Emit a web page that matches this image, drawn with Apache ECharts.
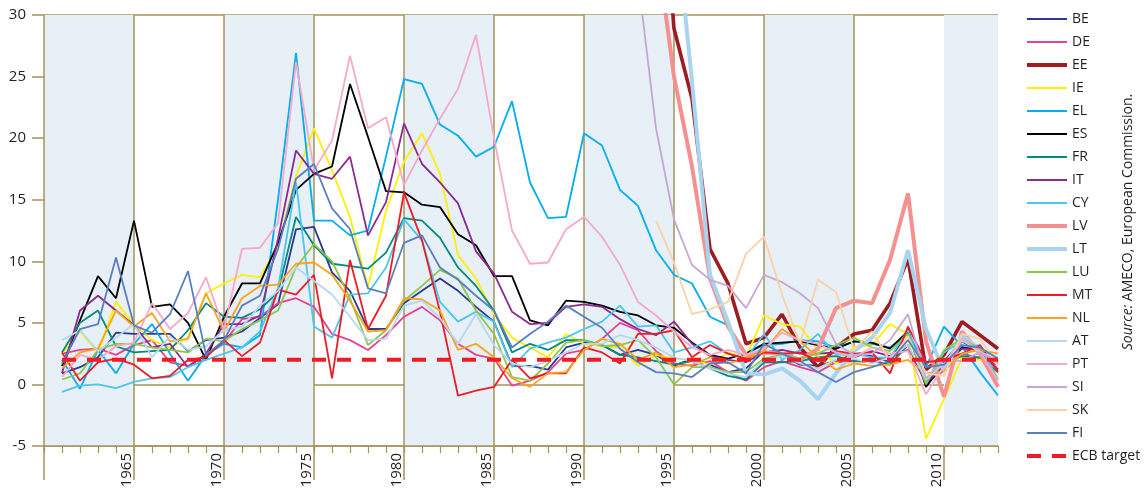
<!DOCTYPE html>
<html>
<head>
<meta charset="utf-8">
<script src="https://cdn.jsdelivr.net/npm/echarts@6/dist/echarts.min.js"></script>
<style>
html,body{margin:0;padding:0;background:#fff;}
#chart{width:1144px;height:495px;}
</style>
</head>
<body>
<div id="chart"></div>
<script>
// ---- data (annual inflation, %) ----
const years = [1961,1962,1963,1964,1965,1966,1967,1968,1969,1970,
  1971,1972,1973,1974,1975,1976,1977,1978,1979,1980,
  1981,1982,1983,1984,1985,1986,1987,1988,1989,1990,
  1991,1992,1993,1994,1995,1996,1997,1998,1999,2000,
  2001,2002,2003,2004,2005,2006,2007,2008,2009,2010,
  2011,2012,2013];

const BE = [0.9,1.4,2.2,4.2,4.1,4.1,4.1,2.7,3.6,3.8, 4.3,5.4,6.5,12.6,12.8,9.1,7.6,4.5,4.5,6.6, 7.6,8.6,7.6,6.3,5.1,1.5,1.5,1.2,3.0,3.4, 3.2,2.4,2.8,2.4,1.5,2.1,1.6,1.0,1.3,2.7, 2.4,1.6,1.5,1.9,2.5,2.3,1.8,4.5,0.0,1.9, 3.5,2.6,1.2];
const DE = [2.5,2.8,2.9,2.4,3.2,3.6,1.8,1.5,2.4,3.4, 5.3,5.5,6.6,7.0,6.3,4.1,3.6,2.8,4.0,5.5, 6.3,5.2,3.3,2.4,2.1,-0.1,0.3,1.0,2.5,2.8, 3.7,5.0,4.4,2.7,1.7,1.5,1.9,1.0,0.3,1.4, 1.9,1.4,1.0,1.8,1.9,1.8,2.3,2.8,0.2,1.1, 2.5,2.1,1.6];
const EE = [null,null,null,null,null,null,null,null,null,null, null,null,null,null,null,null,null,null,null,null, null,null,null,null,null,null,null,null,null,null, null,null,90,48,28.9,23.2,11.0,8.2,3.3,3.8, 5.7,3.0,1.4,3.0,4.1,4.4,6.6,10.2,1.2,2.4, 5.1,4.0,2.9];
const IE = [2.5,4.3,2.6,6.7,4.9,3.6,3.0,3.8,7.4,8.2, 8.9,8.7,11.2,16.9,20.8,17.4,13.6,7.9,14.1,18.1, 20.4,17.1,10.5,8.6,5.7,3.8,3.0,2.2,4.1,3.3, 3.1,3.0,1.5,2.4,2.1,2.0,1.6,2.6,2.2,5.6, 4.9,4.7,2.8,1.7,3.0,3.2,4.9,4.1,-4.4,-1.2, 2.2,2.0,0.9];
const EL = [2.0,-0.35,2.8,0.9,3.3,4.9,2.5,0.3,2.4,3.3, 3.0,4.0,15.0,26.9,13.3,13.3,12.1,12.5,18.5,24.8, 24.4,21.1,20.2,18.5,19.3,23.0,16.4,13.5,13.6,20.4, 19.4,15.8,14.5,10.9,8.9,8.2,5.5,4.8,2.5,3.2, 3.3,3.6,3.5,3.0,3.5,3.3,3.0,4.2,1.4,4.7, 3.1,1.0,-0.9];
const ES = [1.5,5.2,8.8,7.0,13.3,6.3,6.5,5.0,2.0,5.5, 8.2,8.2,11.5,15.8,17.1,17.7,24.4,20.1,15.7,15.6, 14.6,14.4,12.2,11.3,8.8,8.8,5.2,4.8,6.8,6.7, 6.4,5.9,5.6,4.8,4.6,3.4,2.4,2.1,2.5,3.3, 3.4,3.5,3.2,2.9,3.5,3.4,2.9,4.3,-0.2,1.7, 3.0,2.8,1.9];
const FR = [2.6,5.0,6.0,3.1,2.6,2.7,2.8,4.4,6.6,5.5, 5.4,6.1,7.5,13.6,11.3,9.8,9.6,9.4,10.7,13.5, 13.3,11.9,9.5,8.0,6.0,2.6,3.3,2.8,3.6,3.6, 3.2,2.4,2.2,1.9,1.6,1.9,1.3,0.7,0.4,1.8, 1.8,1.9,2.2,2.3,1.9,1.9,1.6,3.2,0.1,1.7, 2.3,2.2,1.0];
const IT = [0.9,6.0,7.2,6.0,4.8,3.0,3.3,1.4,2.5,4.9, 4.9,5.6,11.8,19.0,17.1,16.7,18.5,12.1,14.8,21.2, 17.9,16.4,14.7,10.8,9.0,5.9,4.9,5.0,6.3,6.5, 6.3,5.3,4.5,4.0,5.1,3.3,2.3,2.0,1.8,2.6, 2.8,2.5,2.5,2.6,2.2,2.7,2.3,3.2,0.1,1.5, 2.9,2.8,1.2];
const CY = [-0.6,-0.1,0.0,-0.3,0.2,0.5,0.6,1.4,2.0,2.5, 3.0,4.3,7.8,16.4,4.7,3.8,7.3,7.4,9.5,13.4, 11.7,6.7,5.1,5.9,5.1,1.4,2.9,3.4,3.8,4.5, 5.1,6.4,4.7,4.8,2.6,3.0,3.5,2.5,2.1,4.1, 2.0,2.8,4.1,2.4,2.5,2.2,2.2,4.4,0.2,2.6, 3.5,3.1,0.4];
const LV = [null,null,null,null,null,null,null,null,null,null, null,null,null,null,null,null,null,null,null,null, null,null,null,null,null,null,null,null,null,null, null,200,109,36,25.0,17.7,8.6,4.7,2.4,2.6, 2.5,2.0,2.9,6.2,6.8,6.6,10.1,15.5,3.5,-1.0, 4.3,2.5,-0.2];
const LT = [null,null,null,null,null,null,null,null,null,null, null,null,null,null,null,null,null,null,null,null, null,null,null,null,null,null,null,null,null,null, null,220,140,72,39.0,24.6,8.9,5.1,0.9,0.8, 1.3,0.3,-1.2,0.9,2.7,3.8,5.8,10.9,4.5,1.1, 4.0,2.8,1.7];
const LU = [0.4,0.9,2.8,3.3,3.3,3.0,2.8,2.6,3.7,3.5, 4.5,5.2,6.0,9.5,11.4,10.0,7.0,3.2,4.4,6.8, 8.0,9.3,8.6,6.0,4.1,0.6,0.3,1.7,3.4,3.6, 3.1,3.2,3.6,2.2,0.0,1.4,1.4,1.0,1.0,2.1, 2.4,2.1,2.5,3.2,3.8,3.0,2.7,4.1,0.0,2.8, 3.7,2.9,1.7];
const MT = [2.6,0.3,1.8,2.1,1.6,0.5,0.7,2.0,2.2,3.6, 2.3,3.4,7.7,7.3,8.9,0.5,10.1,4.5,7.2,15.6, 11.7,5.9,-0.9,-0.5,-0.2,2.0,0.5,0.9,0.9,3.0, 2.6,1.7,4.1,4.1,4.4,2.2,3.2,2.5,2.1,2.6, 2.5,2.6,1.9,2.7,2.5,2.6,0.9,4.7,1.8,2.0, 2.5,3.2,1.0];
const NL = [1.3,2.6,2.9,6.0,4.7,5.8,3.5,3.7,7.4,4.3, 7.0,8.0,8.1,9.8,9.9,8.9,6.8,4.3,4.4,7.0, 6.9,6.0,2.8,3.3,2.2,0.5,-0.2,0.9,1.0,2.8, 3.7,3.3,2.0,2.6,1.4,1.6,2.2,1.7,2.1,2.7, 4.5,3.5,2.2,1.2,1.7,1.5,1.6,2.0,0.9,1.1, 2.5,2.8,2.5];
const AT = [3.6,4.4,2.7,3.8,4.9,2.2,3.9,2.8,3.1,4.4, 4.7,6.4,7.6,9.5,8.4,7.3,5.5,3.6,3.7,6.4, 6.8,5.4,3.3,5.7,3.2,1.7,1.4,1.9,2.6,3.3, 3.3,4.0,3.6,3.0,2.2,1.9,1.3,0.9,0.6,2.0, 2.3,1.7,1.3,2.0,2.1,1.7,2.2,3.2,0.4,1.7, 3.6,2.6,2.1];
const PT = [0.6,2.4,2.0,3.1,3.4,6.6,4.5,5.8,8.7,4.5, 11.0,11.1,13.1,26.2,17.4,19.8,26.7,20.8,21.7,16.2, 19.0,21.6,24.0,28.4,20.0,12.5,9.8,9.9,12.6,13.6, 12.0,9.7,6.7,5.6,4.3,3.0,2.4,2.8,2.4,2.9, 4.2,3.6,3.3,2.6,2.2,3.0,2.5,2.7,-0.8,1.5, 3.7,2.7,0.3];
const SI = [null,null,null,null,null,null,null,null,null,null, null,null,null,null,null,null,null,null,null,null, null,null,null,null,null,null,null,null,null,null, null,200,33,20.8,13.4,9.7,8.5,8.0,6.2,8.9, 8.3,7.4,6.2,3.3,2.4,2.5,3.6,5.7,0.5,2.0, 1.9,2.6,1.8];
const SK = [null,null,null,null,null,null,null,null,null,null, null,null,null,null,null,null,null,null,null,null, null,null,null,null,null,null,null,null,null,null, null,null,null,13.3,9.9,5.7,6.1,6.7,10.6,12.0, 7.3,3.3,8.5,7.5,2.8,4.3,1.9,3.9,0.9,0.7, 4.1,3.7,1.5];
const FI = [1.7,4.5,4.9,10.3,4.8,4.2,5.7,9.2,2.4,3.6, 6.4,7.2,11.0,16.7,17.9,14.3,12.6,7.8,7.4,11.5, 12.1,9.5,8.5,7.2,6.0,3.0,4.1,5.1,6.4,5.5, 4.6,2.9,1.8,1.0,0.9,0.6,1.7,1.8,0.9,3.3, 2.5,1.9,1.0,0.2,1.0,1.4,1.9,3.6,1.4,1.6, 3.2,3.0,2.1];
const ecbYears = [1961, 2013];
const ecbTarget = [2, 2];

const yTicks = [-5, 0, 5, 10, 15, 20, 25, 30];
const xLabelYears = [1965, 1970, 1975, 1980, 1985, 1990, 1995, 2000, 2005, 2010];
const sourceText = 'AMECO, European Commission.';

// ---- styling ----
const countries = [
  ['BE', BE, '#2b3990', 1.8],
  ['DE', DE, '#e9418f', 1.8],
  ['EE', EE, '#9e1b22', 3.6],
  ['IE', IE, '#fff000', 1.8],
  ['EL', EL, '#00aeef', 1.8],
  ['ES', ES, '#000000', 1.8],
  ['FR', FR, '#008a80', 1.8],
  ['IT', IT, '#8b2a8f', 1.8],
  ['CY', CY, '#4cc6ef', 1.8],
  ['LV', LV, '#f4918f', 4],
  ['LT', LT, '#a9d4f0', 4],
  ['LU', LU, '#8dc74a', 1.8],
  ['MT', MT, '#ee1c25', 1.8],
  ['NL', NL, '#f8a51c', 1.8],
  ['AT', AT, '#b5d8f0', 1.8],
  ['PT', PT, '#f6a9c9', 1.8],
  ['SI', SI, '#c6a7d3', 1.8],
  ['SK', SK, '#fdd1a7', 1.8],
  ['FI', FI, '#5a7fc1', 1.8]
];
const olive = '#a3935d';
const shade = '#e7eff7';
const clear = 'rgba(255,255,255,0)';
const FONT = 'Open Sans';

const series = countries.map(([name, vals, color, w]) => ({
  name, type: 'line', xAxisIndex: 0, yAxisIndex: 0,
  data: years.map((y, i) => [y, vals[i]]),
  showSymbol: false, symbol: 'none', connectNulls: false,
  lineStyle: { color, width: w }, itemStyle: { color },
  emphasis: { disabled: true }, silent: true, z: 3
}));
series.push({
  name: 'ECB target', type: 'line', xAxisIndex: 0, yAxisIndex: 0,
  data: ecbYears.map((y, i) => [y, ecbTarget[i]]),
  showSymbol: false, symbol: 'none',
  lineStyle: { color: '#ee1c25', width: 4, type: [14, 11] },
  itemStyle: { color: '#ee1c25' }, silent: true, z: 4
});

const legendData = countries.map(([name, , , w]) => ({ name, lineStyle: { width: w > 3 ? 4 : 2 } }));
legendData.push({ name: 'ECB target', lineStyle: { width: 4 } });

const chart = echarts.init(document.getElementById('chart'), null, { renderer: 'canvas' });
chart.setOption({
  animation: false,
  backgroundColor: '#ffffff',
  textStyle: { fontFamily: FONT },
  grid: { left: 44, right: 146, top: 15, bottom: 49, outerBoundsMode: 'none', containLabel: false },
  legend: {
    orient: 'vertical', left: 1020, top: 7,
    itemWidth: 40, itemHeight: 14, itemGap: 9,
    itemStyle: { opacity: 0, color: clear, borderColor: clear, borderWidth: 0 },
    textStyle: { fontSize: 14, color: '#231f20', fontFamily: FONT, lineHeight: 14 },
    data: legendData, selectedMode: false
  },
  xAxis: [
    {
      type: 'value', min: 1960, max: 2013, interval: 1, position: 'bottom',
      axisLine: { show: true, onZero: false, lineStyle: { color: olive, width: 1.5 } },
      axisTick: { show: true, length: 7, lineStyle: { color: olive, width: 1.2 } },
      axisLabel: { show: false },
      splitLine: { show: false },
      splitArea: { show: true, areaStyle: { color: [shade, shade, shade, shade, shade, clear, clear, clear, clear, clear] } }
    },
    {
      type: 'value', min: 1960, max: 2013, interval: 5, position: 'bottom', offset: 0,
      axisLine: { show: false, onZero: false },
      axisTick: { show: true, length: 34, customValues: [1960].concat(xLabelYears), lineStyle: { color: olive, width: 1.5 } },
      axisLabel: {
        show: true, rotate: 90, margin: 7, fontSize: 15, color: '#231f20', fontFamily: FONT,
        customValues: xLabelYears, verticalAlign: 'bottom',
        formatter: v => String(v)
      },
      splitLine: { show: true, showMinLine: true, showMaxLine: false, lineStyle: { color: olive, width: 1.5 } },
      splitArea: { show: false }
    }
  ],
  yAxis: {
    type: 'value', min: yTicks[0], max: yTicks[yTicks.length - 1], interval: 5,
    axisLine: { show: false },
    axisTick: { show: true, length: 12, lineStyle: { color: olive, width: 1.5 } },
    axisLabel: { fontSize: 15, color: '#231f20', margin: 18, fontFamily: FONT },
    splitLine: { show: true, lineStyle: { color: [olive, olive, clear, clear, clear, clear, clear, olive], width: 1.5 } }
  },
  graphic: [{
    type: 'text', x: 1128, y: 222, rotation: Math.PI / 2, silent: true,
    style: {
      text: '{i|Source:} ' + sourceText,
      fontSize: 14, fontFamily: FONT, fill: '#231f20',
      align: 'center', verticalAlign: 'middle',
      rich: { i: { fontStyle: 'italic', fontSize: 14, fontFamily: FONT, fill: '#231f20' } }
    }
  }],
  series
});
</script>
</body>
</html>
